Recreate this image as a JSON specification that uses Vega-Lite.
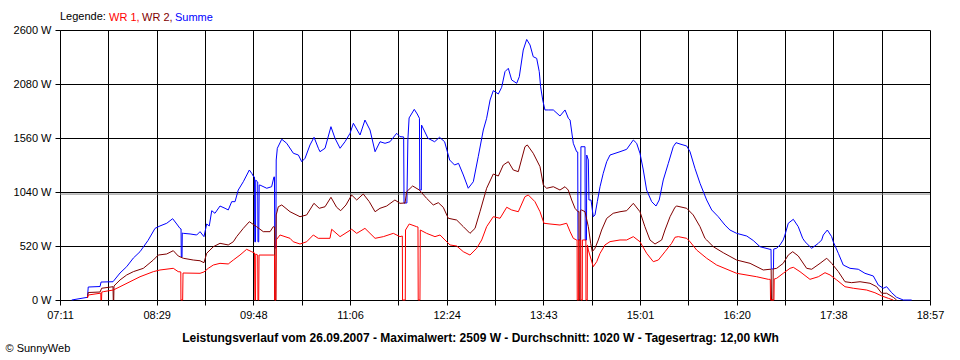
{
  "$schema": "https://vega.github.io/schema/vega-lite/v6.json",
  "width": 870,
  "height": 270,
  "autosize": {"type": "none"},
  "padding": {"left": 60, "top": 30, "right": 30, "bottom": 60},
  "background": "white",
  "config": {
    "view": {"stroke": null},
    "font": "Liberation Sans",
    "axis": {
      "domainColor": "black", "domainWidth": 1,
      "tickColor": "black", "tickWidth": 1, "tickSize": 5,
      "gridColor": "black", "gridOpacity": 1, "gridWidth": 1,
      "labelColor": "black", "labelFont": "Liberation Sans", "labelFontSize": 11, "labelPadding": 4,
      "titleColor": "black", "titleFont": "Liberation Sans", "titleFontSize": 11
    }
  },
  "layer": [
    {
      "data": {"values": [{"avg": 1020}]},
      "mark": {"type": "rule", "color": "#808080", "strokeWidth": 1},
      "encoding": {
        "y": {"field": "avg", "type": "quantitative", "scale": {"domain": [0, 2600], "nice": false, "zero": false}, "title": "© SunnyWeb",
              "axis": {"values": [0, 520, 1040, 1560, 2080, 2600], "labelExpr": "datum.value + ' W'", "titleAngle": 0, "titleAlign": "left", "titleBaseline": "middle", "titleFontWeight": "normal", "titleX": -55, "titleY": 318}}
      }
    },
    {
      "data": {"values": [
{"s":"Summe","t":440.8,"w":0},{"s":"Summe","t":453.6,"w":26},{"s":"Summe","t":454.2,"w":125},{"s":"Summe","t":463.8,"w":130},{"s":"Summe","t":464.6,"w":173},{"s":"Summe","t":474.3,"w":176},{"s":"Summe","t":480.0,"w":260},{"s":"Summe","t":485.4,"w":321},{"s":"Summe","t":490.8,"w":404},{"s":"Summe","t":496.2,"w":465},{"s":"Summe","t":502.7,"w":573},{"s":"Summe","t":508.4,"w":690},{"s":"Summe","t":512.4,"w":713},{"s":"Summe","t":517.9,"w":739},{"s":"Summe","t":522.7,"w":783},{"s":"Summe","t":526.0,"w":732},{"s":"Summe","t":528.6,"w":690},{"s":"Summe","t":529.5,"w":684},{"s":"Summe","t":529.7,"w":414},{"s":"Summe","t":530.3,"w":414},{"s":"Summe","t":530.5,"w":645},{"s":"Summe","t":531.3,"w":642},{"s":"Summe","t":536.8,"w":636},{"s":"Summe","t":542.2,"w":626},{"s":"Summe","t":544.9,"w":658},{"s":"Summe","t":548.1,"w":610},{"s":"Summe","t":550.3,"w":732},{"s":"Summe","t":552.4,"w":713},{"s":"Summe","t":554.4,"w":860},{"s":"Summe","t":557.0,"w":835},{"s":"Summe","t":561.1,"w":905},{"s":"Summe","t":565.2,"w":883},{"s":"Summe","t":567.8,"w":867},{"s":"Summe","t":570.6,"w":947},{"s":"Summe","t":573.3,"w":947},{"s":"Summe","t":575.9,"w":1059},{"s":"Summe","t":580.0,"w":1139},{"s":"Summe","t":584.9,"w":1252},{"s":"Summe","t":586.8,"w":1220},{"s":"Summe","t":588.7,"w":1182},{"s":"Summe","t":589.1,"w":1184},{"s":"Summe","t":589.3,"w":560},{"s":"Summe","t":589.9,"w":560},{"s":"Summe","t":590.1,"w":1155},{"s":"Summe","t":591.7,"w":1136},{"s":"Summe","t":591.9,"w":560},{"s":"Summe","t":592.5,"w":560},{"s":"Summe","t":592.9,"w":1107},{"s":"Summe","t":593.5,"w":1107},{"s":"Summe","t":599.0,"w":1076},{"s":"Summe","t":603.0,"w":1091},{"s":"Summe","t":604.9,"w":1187},{"s":"Summe","t":605.3,"w":1184},{"s":"Summe","t":605.5,"w":500},{"s":"Summe","t":606.4,"w":500},{"s":"Summe","t":606.7,"w":1348},{"s":"Summe","t":607.6,"w":1461},{"s":"Summe","t":611.2,"w":1548},{"s":"Summe","t":615.2,"w":1509},{"s":"Summe","t":620.6,"w":1413},{"s":"Summe","t":624.7,"w":1396},{"s":"Summe","t":627.4,"w":1332},{"s":"Summe","t":630.1,"w":1365},{"s":"Summe","t":634.1,"w":1493},{"s":"Summe","t":637.4,"w":1567},{"s":"Summe","t":640.9,"w":1461},{"s":"Summe","t":642.2,"w":1428},{"s":"Summe","t":646.3,"w":1461},{"s":"Summe","t":651.1,"w":1669},{"s":"Summe","t":654.4,"w":1557},{"s":"Summe","t":658.5,"w":1461},{"s":"Summe","t":662.5,"w":1524},{"s":"Summe","t":666.6,"w":1605},{"s":"Summe","t":669.3,"w":1702},{"s":"Summe","t":674.7,"w":1589},{"s":"Summe","t":678.7,"w":1733},{"s":"Summe","t":682.8,"w":1637},{"s":"Summe","t":686.9,"w":1428},{"s":"Summe","t":690.9,"w":1524},{"s":"Summe","t":695.0,"w":1509},{"s":"Summe","t":699.0,"w":1524},{"s":"Summe","t":704.4,"w":1605},{"s":"Summe","t":707.1,"w":1573},{"s":"Summe","t":710.1,"w":1570},{"s":"Summe","t":710.4,"w":934},{"s":"Summe","t":712.7,"w":934},{"s":"Summe","t":713.5,"w":1541},{"s":"Summe","t":714.5,"w":1753},{"s":"Summe","t":718.7,"w":1836},{"s":"Summe","t":721.1,"w":1791},{"s":"Summe","t":722.9,"w":1750},{"s":"Summe","t":723.2,"w":1059},{"s":"Summe","t":724.4,"w":1059},{"s":"Summe","t":724.6,"w":1685},{"s":"Summe","t":729.8,"w":1557},{"s":"Summe","t":735.2,"w":1524},{"s":"Summe","t":739.2,"w":1567},{"s":"Summe","t":743.3,"w":1524},{"s":"Summe","t":747.4,"w":1348},{"s":"Summe","t":751.4,"w":1300},{"s":"Summe","t":754.6,"w":1316},{"s":"Summe","t":758.5,"w":1204},{"s":"Summe","t":762.5,"w":1076},{"s":"Summe","t":766.6,"w":1139},{"s":"Summe","t":770.6,"w":1380},{"s":"Summe","t":774.7,"w":1637},{"s":"Summe","t":777.4,"w":1750},{"s":"Summe","t":780.2,"w":1926},{"s":"Summe","t":782.8,"w":2016},{"s":"Summe","t":786.9,"w":1984},{"s":"Summe","t":789.6,"w":2048},{"s":"Summe","t":792.3,"w":2199},{"s":"Summe","t":795.0,"w":2231},{"s":"Summe","t":797.7,"w":2119},{"s":"Summe","t":801.8,"w":2087},{"s":"Summe","t":803.9,"w":2150},{"s":"Summe","t":807.1,"w":2407},{"s":"Summe","t":809.9,"w":2509},{"s":"Summe","t":812.6,"w":2456},{"s":"Summe","t":815.2,"w":2343},{"s":"Summe","t":818.0,"w":2327},{"s":"Summe","t":820.1,"w":2199},{"s":"Summe","t":821.2,"w":2054},{"s":"Summe","t":822.9,"w":1926},{"s":"Summe","t":824.7,"w":1830},{"s":"Summe","t":827.4,"w":1830},{"s":"Summe","t":831.5,"w":1830},{"s":"Summe","t":836.9,"w":1772},{"s":"Summe","t":841.0,"w":1830},{"s":"Summe","t":843.7,"w":1750},{"s":"Summe","t":845.1,"w":1733},{"s":"Summe","t":847.7,"w":1509},{"s":"Summe","t":850.4,"w":1428},{"s":"Summe","t":851.3,"w":1425},{"s":"Summe","t":851.5,"w":578},{"s":"Summe","t":853.7,"w":578},{"s":"Summe","t":853.9,"w":1476},{"s":"Summe","t":857.2,"w":1476},{"s":"Summe","t":857.4,"w":578},{"s":"Summe","t":858.4,"w":578},{"s":"Summe","t":858.6,"w":1396},{"s":"Summe","t":859.9,"w":1348},{"s":"Summe","t":860.4,"w":963},{"s":"Summe","t":862.1,"w":963},{"s":"Summe","t":863.9,"w":802},{"s":"Summe","t":865.3,"w":819},{"s":"Summe","t":867.2,"w":947},{"s":"Summe","t":869.4,"w":1091},{"s":"Summe","t":872.0,"w":1220},{"s":"Summe","t":874.8,"w":1332},{"s":"Summe","t":877.5,"w":1396},{"s":"Summe","t":885.6,"w":1428},{"s":"Summe","t":891.0,"w":1451},{"s":"Summe","t":896.4,"w":1541},{"s":"Summe","t":899.1,"w":1509},{"s":"Summe","t":901.8,"w":1413},{"s":"Summe","t":904.5,"w":1252},{"s":"Summe","t":907.2,"w":1059},{"s":"Summe","t":911.3,"w":947},{"s":"Summe","t":914.8,"w":905},{"s":"Summe","t":917.4,"w":963},{"s":"Summe","t":920.7,"w":1156},{"s":"Summe","t":924.8,"w":1316},{"s":"Summe","t":928.8,"w":1476},{"s":"Summe","t":931.0,"w":1515},{"s":"Summe","t":934.3,"w":1502},{"s":"Summe","t":939.7,"w":1483},{"s":"Summe","t":942.4,"w":1428},{"s":"Summe","t":946.4,"w":1268},{"s":"Summe","t":950.5,"w":1124},{"s":"Summe","t":955.9,"w":963},{"s":"Summe","t":960.0,"w":867},{"s":"Summe","t":965.3,"w":802},{"s":"Summe","t":970.7,"w":722},{"s":"Summe","t":974.8,"w":674},{"s":"Summe","t":980.2,"w":642},{"s":"Summe","t":988.4,"w":616},{"s":"Summe","t":993.7,"w":573},{"s":"Summe","t":999.2,"w":513},{"s":"Summe","t":1007.3,"w":488},{"s":"Summe","t":1008.1,"w":488},{"s":"Summe","t":1008.3,"w":299},{"s":"Summe","t":1010.1,"w":299},{"s":"Summe","t":1010.3,"w":491},{"s":"Summe","t":1012.7,"w":498},{"s":"Summe","t":1015.4,"w":530},{"s":"Summe","t":1018.0,"w":578},{"s":"Summe","t":1019.4,"w":626},{"s":"Summe","t":1022.1,"w":739},{"s":"Summe","t":1026.2,"w":777},{"s":"Summe","t":1030.2,"w":706},{"s":"Summe","t":1033.8,"w":594},{"s":"Summe","t":1035.7,"w":561},{"s":"Summe","t":1041.1,"w":498},{"s":"Summe","t":1046.5,"w":546},{"s":"Summe","t":1049.2,"w":578},{"s":"Summe","t":1050.5,"w":626},{"s":"Summe","t":1053.8,"w":674},{"s":"Summe","t":1057.3,"w":610},{"s":"Summe","t":1058.6,"w":561},{"s":"Summe","t":1062.7,"w":450},{"s":"Summe","t":1066.7,"w":337},{"s":"Summe","t":1072.2,"w":305},{"s":"Summe","t":1078.9,"w":296},{"s":"Summe","t":1084.3,"w":257},{"s":"Summe","t":1091.1,"w":231},{"s":"Summe","t":1095.1,"w":144},{"s":"Summe","t":1099.2,"w":113},{"s":"Summe","t":1101.9,"w":128},{"s":"Summe","t":1106.0,"w":70},{"s":"Summe","t":1110.0,"w":26},{"s":"Summe","t":1115.4,"w":0},{"s":"Summe","t":1122.2,"w":0},
{"s":"WR 2","t":453.6,"w":20},{"s":"WR 2","t":454.2,"w":72},{"s":"WR 2","t":463.8,"w":77},{"s":"WR 2","t":465.1,"w":113},{"s":"WR 2","t":474.3,"w":128},{"s":"WR 2","t":474.5,"w":0},{"s":"WR 2","t":474.9,"w":0},{"s":"WR 2","t":475.1,"w":135},{"s":"WR 2","t":480.0,"w":193},{"s":"WR 2","t":485.4,"w":241},{"s":"WR 2","t":490.8,"w":273},{"s":"WR 2","t":498.9,"w":305},{"s":"WR 2","t":507.0,"w":385},{"s":"WR 2","t":511.0,"w":433},{"s":"WR 2","t":517.8,"w":443},{"s":"WR 2","t":523.2,"w":475},{"s":"WR 2","t":527.2,"w":424},{"s":"WR 2","t":531.3,"w":402},{"s":"WR 2","t":539.4,"w":385},{"s":"WR 2","t":544.9,"w":378},{"s":"WR 2","t":548.1,"w":359},{"s":"WR 2","t":550.3,"w":450},{"s":"WR 2","t":555.7,"w":513},{"s":"WR 2","t":561.1,"w":546},{"s":"WR 2","t":567.8,"w":530},{"s":"WR 2","t":571.9,"w":561},{"s":"WR 2","t":574.6,"w":610},{"s":"WR 2","t":580.0,"w":690},{"s":"WR 2","t":584.9,"w":754},{"s":"WR 2","t":590.8,"w":706},{"s":"WR 2","t":596.2,"w":658},{"s":"WR 2","t":601.7,"w":658},{"s":"WR 2","t":604.3,"w":706},{"s":"WR 2","t":605.3,"w":703},{"s":"WR 2","t":605.5,"w":0},{"s":"WR 2","t":606.4,"w":0},{"s":"WR 2","t":606.7,"w":819},{"s":"WR 2","t":608.4,"w":898},{"s":"WR 2","t":611.2,"w":915},{"s":"WR 2","t":617.9,"w":850},{"s":"WR 2","t":626.0,"w":802},{"s":"WR 2","t":631.4,"w":819},{"s":"WR 2","t":637.3,"w":931},{"s":"WR 2","t":641.6,"w":883},{"s":"WR 2","t":646.3,"w":898},{"s":"WR 2","t":651.1,"w":989},{"s":"WR 2","t":655.7,"w":893},{"s":"WR 2","t":659.0,"w":860},{"s":"WR 2","t":663.3,"w":915},{"s":"WR 2","t":667.9,"w":1011},{"s":"WR 2","t":672.0,"w":963},{"s":"WR 2","t":677.3,"w":1021},{"s":"WR 2","t":682.2,"w":947},{"s":"WR 2","t":686.9,"w":850},{"s":"WR 2","t":690.9,"w":883},{"s":"WR 2","t":696.3,"w":905},{"s":"WR 2","t":703.0,"w":963},{"s":"WR 2","t":707.1,"w":931},{"s":"WR 2","t":711.2,"w":934},{"s":"WR 2","t":712.5,"w":1043},{"s":"WR 2","t":717.4,"w":1098},{"s":"WR 2","t":722.8,"w":1059},{"s":"WR 2","t":728.7,"w":979},{"s":"WR 2","t":734.1,"w":915},{"s":"WR 2","t":738.2,"w":937},{"s":"WR 2","t":742.2,"w":893},{"s":"WR 2","t":746.3,"w":787},{"s":"WR 2","t":753.1,"w":770},{"s":"WR 2","t":758.5,"w":706},{"s":"WR 2","t":763.9,"w":642},{"s":"WR 2","t":768.0,"w":690},{"s":"WR 2","t":772.0,"w":850},{"s":"WR 2","t":777.4,"w":1076},{"s":"WR 2","t":782.8,"w":1213},{"s":"WR 2","t":786.9,"w":1194},{"s":"WR 2","t":790.9,"w":1300},{"s":"WR 2","t":795.0,"w":1332},{"s":"WR 2","t":799.0,"w":1252},{"s":"WR 2","t":803.1,"w":1236},{"s":"WR 2","t":808.5,"w":1476},{"s":"WR 2","t":810.4,"w":1493},{"s":"WR 2","t":815.2,"w":1413},{"s":"WR 2","t":820.7,"w":1284},{"s":"WR 2","t":823.4,"w":1107},{"s":"WR 2","t":826.1,"w":1076},{"s":"WR 2","t":831.5,"w":1091},{"s":"WR 2","t":836.9,"w":1059},{"s":"WR 2","t":841.0,"w":1091},{"s":"WR 2","t":843.6,"w":1059},{"s":"WR 2","t":846.4,"w":963},{"s":"WR 2","t":849.1,"w":883},{"s":"WR 2","t":851.5,"w":850},{"s":"WR 2","t":852.3,"w":850},{"s":"WR 2","t":852.5,"w":0},{"s":"WR 2","t":853.2,"w":0},{"s":"WR 2","t":853.4,"w":860},{"s":"WR 2","t":854.5,"w":867},{"s":"WR 2","t":857.2,"w":850},{"s":"WR 2","t":859.9,"w":706},{"s":"WR 2","t":861.8,"w":546},{"s":"WR 2","t":863.1,"w":465},{"s":"WR 2","t":865.3,"w":498},{"s":"WR 2","t":868.0,"w":578},{"s":"WR 2","t":870.7,"w":674},{"s":"WR 2","t":874.8,"w":786},{"s":"WR 2","t":880.1,"w":835},{"s":"WR 2","t":885.6,"w":850},{"s":"WR 2","t":891.0,"w":860},{"s":"WR 2","t":896.4,"w":931},{"s":"WR 2","t":901.8,"w":850},{"s":"WR 2","t":905.8,"w":706},{"s":"WR 2","t":909.9,"w":578},{"s":"WR 2","t":914.0,"w":539},{"s":"WR 2","t":919.4,"w":578},{"s":"WR 2","t":922.1,"w":674},{"s":"WR 2","t":926.2,"w":802},{"s":"WR 2","t":930.2,"w":893},{"s":"WR 2","t":931.6,"w":905},{"s":"WR 2","t":939.7,"w":883},{"s":"WR 2","t":945.0,"w":819},{"s":"WR 2","t":950.5,"w":706},{"s":"WR 2","t":954.5,"w":594},{"s":"WR 2","t":955.9,"w":578},{"s":"WR 2","t":961.3,"w":513},{"s":"WR 2","t":969.4,"w":455},{"s":"WR 2","t":980.2,"w":385},{"s":"WR 2","t":991.1,"w":353},{"s":"WR 2","t":1001.8,"w":289},{"s":"WR 2","t":1007.3,"w":296},{"s":"WR 2","t":1008.2,"w":296},{"s":"WR 2","t":1008.5,"w":0},{"s":"WR 2","t":1009.7,"w":0},{"s":"WR 2","t":1009.9,"w":299},{"s":"WR 2","t":1012.7,"w":305},{"s":"WR 2","t":1018.0,"w":353},{"s":"WR 2","t":1022.1,"w":433},{"s":"WR 2","t":1025.7,"w":465},{"s":"WR 2","t":1030.2,"w":424},{"s":"WR 2","t":1037.0,"w":305},{"s":"WR 2","t":1041.1,"w":296},{"s":"WR 2","t":1047.9,"w":353},{"s":"WR 2","t":1053.3,"w":402},{"s":"WR 2","t":1057.3,"w":353},{"s":"WR 2","t":1062.7,"w":273},{"s":"WR 2","t":1068.1,"w":176},{"s":"WR 2","t":1073.5,"w":167},{"s":"WR 2","t":1080.3,"w":176},{"s":"WR 2","t":1088.4,"w":161},{"s":"WR 2","t":1093.8,"w":128},{"s":"WR 2","t":1097.9,"w":65},{"s":"WR 2","t":1101.9,"w":65},{"s":"WR 2","t":1107.3,"w":26},{"s":"WR 2","t":1110.0,"w":0},
{"s":"WR 1","t":453.6,"w":20},{"s":"WR 1","t":454.2,"w":48},{"s":"WR 1","t":463.8,"w":65},{"s":"WR 1","t":464.4,"w":67},{"s":"WR 1","t":464.5,"w":0},{"s":"WR 1","t":465.0,"w":0},{"s":"WR 1","t":465.2,"w":77},{"s":"WR 1","t":466.4,"w":80},{"s":"WR 1","t":474.5,"w":96},{"s":"WR 1","t":480.0,"w":128},{"s":"WR 1","t":488.1,"w":176},{"s":"WR 1","t":496.2,"w":224},{"s":"WR 1","t":507.0,"w":273},{"s":"WR 1","t":512.4,"w":289},{"s":"WR 1","t":523.2,"w":305},{"s":"WR 1","t":527.2,"w":273},{"s":"WR 1","t":529.3,"w":270},{"s":"WR 1","t":529.4,"w":0},{"s":"WR 1","t":530.8,"w":0},{"s":"WR 1","t":531.1,"w":260},{"s":"WR 1","t":544.9,"w":257},{"s":"WR 1","t":548.1,"w":270},{"s":"WR 1","t":551.6,"w":305},{"s":"WR 1","t":555.7,"w":337},{"s":"WR 1","t":561.1,"w":353},{"s":"WR 1","t":567.8,"w":347},{"s":"WR 1","t":571.9,"w":385},{"s":"WR 1","t":577.3,"w":433},{"s":"WR 1","t":582.7,"w":488},{"s":"WR 1","t":586.8,"w":465},{"s":"WR 1","t":589.1,"w":453},{"s":"WR 1","t":589.4,"w":0},{"s":"WR 1","t":589.9,"w":0},{"s":"WR 1","t":590.1,"w":443},{"s":"WR 1","t":591.7,"w":433},{"s":"WR 1","t":591.9,"w":0},{"s":"WR 1","t":592.5,"w":0},{"s":"WR 1","t":592.8,"w":433},{"s":"WR 1","t":604.3,"w":433},{"s":"WR 1","t":605.3,"w":433},{"s":"WR 1","t":605.5,"w":0},{"s":"WR 1","t":606.4,"w":0},{"s":"WR 1","t":606.7,"w":578},{"s":"WR 1","t":609.8,"w":626},{"s":"WR 1","t":617.9,"w":594},{"s":"WR 1","t":620.5,"w":561},{"s":"WR 1","t":626.0,"w":539},{"s":"WR 1","t":631.4,"w":561},{"s":"WR 1","t":636.8,"w":626},{"s":"WR 1","t":640.8,"w":594},{"s":"WR 1","t":650.3,"w":594},{"s":"WR 1","t":651.7,"w":681},{"s":"WR 1","t":658.5,"w":610},{"s":"WR 1","t":667.9,"w":681},{"s":"WR 1","t":672.0,"w":642},{"s":"WR 1","t":678.7,"w":690},{"s":"WR 1","t":682.8,"w":642},{"s":"WR 1","t":686.9,"w":594},{"s":"WR 1","t":693.6,"w":610},{"s":"WR 1","t":701.7,"w":642},{"s":"WR 1","t":707.1,"w":610},{"s":"WR 1","t":709.0,"w":616},{"s":"WR 1","t":709.2,"w":0},{"s":"WR 1","t":711.4,"w":0},{"s":"WR 1","t":711.6,"w":674},{"s":"WR 1","t":714.6,"w":732},{"s":"WR 1","t":720.6,"w":706},{"s":"WR 1","t":721.7,"w":703},{"s":"WR 1","t":721.9,"w":0},{"s":"WR 1","t":723.3,"w":0},{"s":"WR 1","t":723.6,"w":674},{"s":"WR 1","t":728.7,"w":642},{"s":"WR 1","t":735.5,"w":610},{"s":"WR 1","t":739.6,"w":626},{"s":"WR 1","t":743.6,"w":578},{"s":"WR 1","t":747.7,"w":530},{"s":"WR 1","t":753.1,"w":520},{"s":"WR 1","t":758.5,"w":465},{"s":"WR 1","t":763.9,"w":433},{"s":"WR 1","t":769.3,"w":498},{"s":"WR 1","t":773.4,"w":578},{"s":"WR 1","t":777.4,"w":706},{"s":"WR 1","t":782.8,"w":802},{"s":"WR 1","t":788.3,"w":787},{"s":"WR 1","t":793.7,"w":893},{"s":"WR 1","t":797.7,"w":867},{"s":"WR 1","t":803.1,"w":850},{"s":"WR 1","t":808.5,"w":995},{"s":"WR 1","t":811.2,"w":1011},{"s":"WR 1","t":816.6,"w":947},{"s":"WR 1","t":820.7,"w":850},{"s":"WR 1","t":823.9,"w":739},{"s":"WR 1","t":828.8,"w":732},{"s":"WR 1","t":836.9,"w":722},{"s":"WR 1","t":842.3,"w":739},{"s":"WR 1","t":845.1,"w":658},{"s":"WR 1","t":847.7,"w":594},{"s":"WR 1","t":850.4,"w":578},{"s":"WR 1","t":850.8,"w":578},{"s":"WR 1","t":850.9,"w":0},{"s":"WR 1","t":852.0,"w":0},{"s":"WR 1","t":852.1,"w":578},{"s":"WR 1","t":853.8,"w":578},{"s":"WR 1","t":853.9,"w":0},{"s":"WR 1","t":855.0,"w":0},{"s":"WR 1","t":855.1,"w":578},{"s":"WR 1","t":857.9,"w":578},{"s":"WR 1","t":858.0,"w":0},{"s":"WR 1","t":859.0,"w":0},{"s":"WR 1","t":859.2,"w":530},{"s":"WR 1","t":859.9,"w":481},{"s":"WR 1","t":863.9,"w":321},{"s":"WR 1","t":866.7,"w":369},{"s":"WR 1","t":869.4,"w":449},{"s":"WR 1","t":873.4,"w":530},{"s":"WR 1","t":877.5,"w":562},{"s":"WR 1","t":885.6,"w":578},{"s":"WR 1","t":891.0,"w":578},{"s":"WR 1","t":896.4,"w":610},{"s":"WR 1","t":901.8,"w":561},{"s":"WR 1","t":907.2,"w":450},{"s":"WR 1","t":912.6,"w":369},{"s":"WR 1","t":916.7,"w":385},{"s":"WR 1","t":922.1,"w":465},{"s":"WR 1","t":927.5,"w":546},{"s":"WR 1","t":930.2,"w":604},{"s":"WR 1","t":932.9,"w":610},{"s":"WR 1","t":939.7,"w":594},{"s":"WR 1","t":942.4,"w":561},{"s":"WR 1","t":947.8,"w":481},{"s":"WR 1","t":955.9,"w":402},{"s":"WR 1","t":964.0,"w":337},{"s":"WR 1","t":980.2,"w":257},{"s":"WR 1","t":996.5,"w":224},{"s":"WR 1","t":1005.9,"w":199},{"s":"WR 1","t":1007.5,"w":199},{"s":"WR 1","t":1007.7,"w":0},{"s":"WR 1","t":1010.5,"w":0},{"s":"WR 1","t":1010.7,"w":202},{"s":"WR 1","t":1012.7,"w":209},{"s":"WR 1","t":1018.0,"w":257},{"s":"WR 1","t":1023.5,"w":305},{"s":"WR 1","t":1026.2,"w":315},{"s":"WR 1","t":1031.6,"w":273},{"s":"WR 1","t":1039.7,"w":199},{"s":"WR 1","t":1046.5,"w":224},{"s":"WR 1","t":1051.9,"w":263},{"s":"WR 1","t":1056.0,"w":241},{"s":"WR 1","t":1061.4,"w":193},{"s":"WR 1","t":1068.1,"w":128},{"s":"WR 1","t":1074.9,"w":113},{"s":"WR 1","t":1085.7,"w":96},{"s":"WR 1","t":1092.4,"w":70},{"s":"WR 1","t":1097.9,"w":39},{"s":"WR 1","t":1103.3,"w":16},{"s":"WR 1","t":1107.3,"w":0}
      ]},
      "mark": {"type": "line", "strokeWidth": 1, "interpolate": "linear"},
      "encoding": {
        "x": {"field": "t", "type": "quantitative", "scale": {"domain": [431.3, 1137.08], "nice": false, "zero": false},
              "title": "Leistungsverlauf vom 26.09.2007 - Maximalwert: 2509 W - Durchschnitt: 1020 W - Tagesertrag: 12,00 kWh",
              "axis": {
                "values": [431.3, 470.51, 509.72, 548.93, 588.14, 627.35, 666.56, 705.77, 744.98, 784.19, 823.4, 862.61, 901.82, 941.03, 980.24, 1019.45, 1058.66, 1097.87, 1137.08],
                "labelExpr": "round((datum.value - 431.3) / 39.21) % 2 == 0 ? (floor(datum.value / 60) < 10 ? '0' : '') + floor(datum.value / 60) + ':' + (floor(datum.value % 60) < 10 ? '0' : '') + floor(datum.value % 60) : ''",
                "labelOverlap": false, "labelBound": false, "labelFlush": false,
                "titleFontWeight": "bold", "titleFontSize": 12, "titleX": 420, "titleY": 37, "titleAlign": "center", "titleBaseline": "middle"
              }},
        "y": {"field": "w", "type": "quantitative", "scale": {"domain": [0, 2600], "nice": false, "zero": false}, "title": "© SunnyWeb",
              "axis": {"values": [0, 520, 1040, 1560, 2080, 2600], "labelExpr": "datum.value + ' W'", "titleAngle": 0, "titleAlign": "left", "titleBaseline": "middle", "titleFontWeight": "normal", "titleX": -55, "titleY": 318}},
        "color": {
          "field": "s", "type": "nominal",
          "scale": {"domain": ["WR 1", "WR 2", "Summe"], "range": ["#ff0000", "#800000", "#0000ff"]},
          "legend": {
            "orient": "none", "legendX": 0, "legendY": -18, "direction": "horizontal",
            "title": "Legende:", "titleOrient": "left", "titleFontSize": 11, "titleFontWeight": "normal", "titleColor": "black", "titleFont": "Liberation Sans", "titlePadding": 3,
            "labelFontSize": 11, "labelFont": "Liberation Sans", "labelOffset": -11,
            "symbolSize": 0, "symbolStrokeWidth": 0, "symbolOpacity": 0, "columnPadding": 2, "padding": 0,
            "labelExpr": "datum.label == 'Summe' ? datum.label : datum.label + ','",
            "encode": {"labels": {"update": {"fill": {"scale": "color", "field": "value"}}}}
          }
        }
      }
    }
  ]
}
